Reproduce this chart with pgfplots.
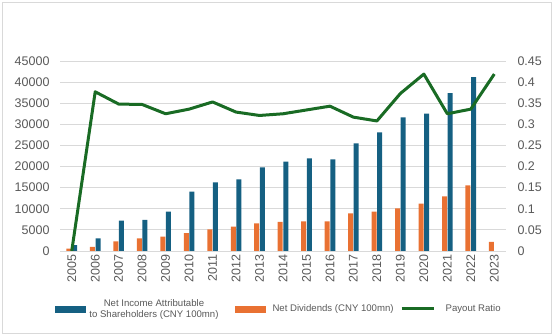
\documentclass[border=0pt]{standalone}
\usepackage{pgfplots}
\pgfplotsset{compat=1.18}
\usepackage{pgfplotstable}
\usepackage{fontspec}
\setmainfont{Liberation Sans}
\definecolor{cBlue}{HTML}{156082}
\definecolor{cOrange}{HTML}{E97132}
\definecolor{cGreen}{HTML}{196B24}
\definecolor{cText}{HTML}{595959}
\definecolor{cGrid}{HTML}{D9D9D9}

\pgfplotstableread{
x year income div ratio
0 2005 1400 550 0
1 2006 3000 950 0.377
2 2007 7200 2300 0.348
3 2008 7350 3000 0.347
4 2009 9300 3400 0.325
5 2010 14050 4260 0.336
6 2011 16250 5130 0.353
7 2012 16950 5760 0.329
8 2013 19800 6550 0.321
9 2014 21150 6870 0.325
10 2015 21950 7030 0.334
11 2016 21700 7030 0.343
12 2017 25500 8920 0.317
13 2018 28100 9310 0.308
14 2019 31650 10100 0.373
15 2020 32520 11200 0.419
16 2021 37400 12950 0.325
17 2022 41200 15550 0.336
18 2023 nan 2130 0.419
}\datatable

\pgfplotsset{
  common/.style={
    scale only axis, width=446pt, height=190pt,
    xmin=-0.5, xmax=18.5,
    axis line style={draw=none},
    major tick length=0pt,
    tick label style={font=\fontsize{12.5}{14}\selectfont, text=cText},
    /pgf/number format/assume math mode=true,
    /pgf/number format/1000 sep={},
    scaled y ticks=false,
  }
}

\begin{document}
\begin{tikzpicture}
\begin{axis}[common, name=main,
  ymin=0, ymax=45000,
  ytick={0,5000,10000,15000,20000,25000,30000,35000,40000,45000},
  ytick pos=left, xtick pos=bottom,
  ymajorgrids, grid style={cGrid, line width=0.9pt},
  yticklabel style={xshift=-7pt},
  xtick={0,...,18},
  xticklabels={2005,2006,2007,2008,2009,2010,2011,2012,2013,2014,2015,2016,2017,2018,2019,2020,2021,2022,2023},
  xticklabel style={rotate=90, anchor=east, xshift=0pt, yshift=0pt},
]
\addplot[ybar, bar width=5pt, bar shift=-2.8pt, fill=cOrange, draw=none] table[x=x, y=div] {\datatable};
\addplot[ybar, bar width=5pt, bar shift=2.8pt, fill=cBlue, draw=none] table[x=x, y=income] {\datatable};
\end{axis}
\begin{axis}[common,
  ymin=0, ymax=0.45,
  ytick={0,0.05,0.1,0.15,0.2,0.25,0.3,0.35,0.4,0.45},
  yticklabel style={/pgf/number format/fixed, /pgf/number format/precision=2, xshift=8pt},
  ytick pos=right, xtick=\empty,
  legend columns=3,
  legend style={at={(-0.0112,-0.305)}, anchor=west, draw=none, fill=none,
    inner xsep=0pt, inner ysep=0pt,
    nodes={anchor=west, inner sep=0pt, text=cText},
    cells={align=center},
    font=\fontsize{9.6}{11}\selectfont,
    column sep=0pt},
]
\addlegendimage{legend image code/.code={\path[draw=none,fill=none] (0pt,0pt) -- (34pt,0pt); \fill[cBlue] (0pt,-3.2pt) rectangle (30pt,3.2pt);}}
\addlegendentry{Net Income Attributable\\to Shareholders  (CNY 100mn)}
\addlegendimage{legend image code/.code={\path[draw=none,fill=none] (0pt,0pt) -- (54pt,0pt); \fill[cOrange] (17pt,-3.2pt) rectangle (47pt,3.2pt);}}
\addlegendentry{Net Dividends (CNY 100mn)}
\addplot[cGreen, line width=3pt, line join=round,
  legend image code/.code={\path[draw=none,fill=none] (0pt,0pt) -- (52pt,0pt); \draw[cGreen, line width=3pt] (8pt,0pt) -- (40pt,0pt);}]
  table[x=x, y=ratio] {\datatable};
\addlegendentry{Payout Ratio}
\end{axis}
\draw[cGrid, line width=0.8pt] ([xshift=-58pt,yshift=-82pt]main.south west) rectangle ([xshift=45pt,yshift=59pt]main.north east);
\pgfresetboundingbox
\useasboundingbox ([xshift=-60pt,yshift=-84pt]main.south west) rectangle ([xshift=48pt,yshift=61pt]main.north east);
\end{tikzpicture}
\end{document}
